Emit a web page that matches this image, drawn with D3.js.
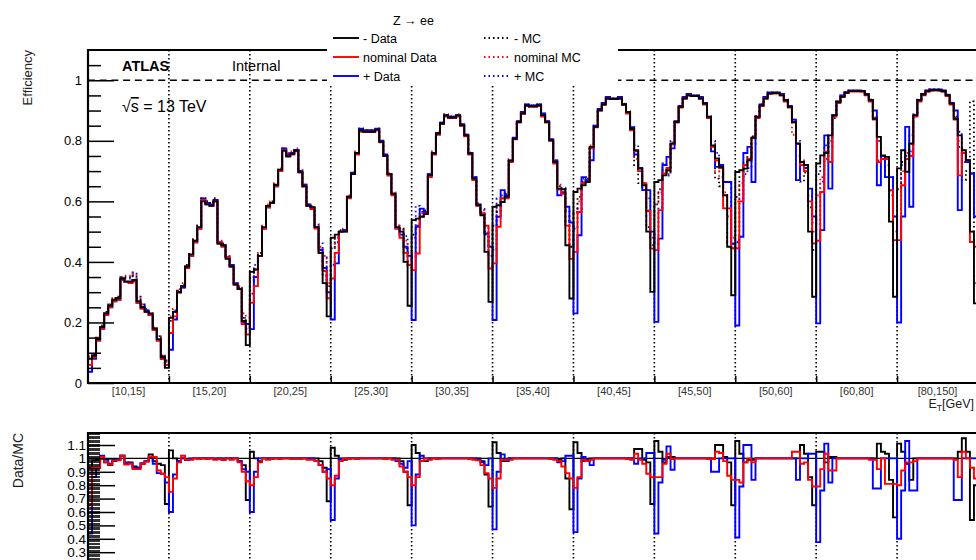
<!DOCTYPE html>
<html><head><meta charset="utf-8">
<script src="https://cdn.jsdelivr.net/npm/d3@7"></script>
<style>body{margin:0;background:#fff;} svg{display:block;font-family:"Liberation Sans",Arial,sans-serif;}</style>
</head><body><svg id="c" width="976" height="560"></svg>
<script>
// ---------- data ----------
const etLabels = ["[10,15]","[15,20]","[20,25]","[25,30]","[30,35]","[35,40]","[40,45]","[45,50]","[50,60]","[60,80]","[80,150]"];
const mainTicks = [0,0.2,0.4,0.6,0.8,1];
const mainTickLabels = ["0","0.2","0.4","0.6","0.8","1"];
const ratioTicks = [0.3,0.4,0.5,0.6,0.7,0.8,0.9,1,1.1];
const ratioTickLabels = ["0.3","0.4","0.5","0.6","0.7","0.8","0.9","1","1.1"];
const legendTitle = "Z \u2192 ee";
const dataNames = ["- Data","nominal Data","+ Data"];
const mcNames = ["- MC","nominal MC","+ MC"];

// efficiency, 20 eta bins per ET bin
const minusData = [
[0.08,0.09,0.145,0.185,0.23,0.255,0.275,0.28,0.345,0.335,0.335,0.34,0.27,0.25,0.235,0.23,0.18,0.145,0.085,0.05],
[0.215,0.235,0.30,0.32,0.385,0.425,0.47,0.515,0.60,0.59,0.585,0.60,0.46,0.455,0.41,0.385,0.325,0.31,0.205,0.125],
[0.367,0.375,0.42,0.515,0.585,0.595,0.655,0.705,0.767,0.748,0.757,0.767,0.697,0.65,0.585,0.58,0.515,0.43,0.33,0.22],
[0.48,0.49,0.50,0.50,0.615,0.69,0.76,0.835,0.83,0.83,0.83,0.837,0.797,0.75,0.69,0.625,0.515,0.50,0.40,0.255],
[0.538,0.543,0.549,0.558,0.686,0.758,0.824,0.857,0.884,0.877,0.877,0.884,0.851,0.818,0.758,0.675,0.587,0.554,0.433,0.268],
[0.582,0.587,0.598,0.615,0.734,0.807,0.862,0.89,0.917,0.914,0.914,0.917,0.885,0.862,0.802,0.73,0.642,0.64,0.455,0.279],
[0.631,0.642,0.653,0.664,0.78,0.846,0.901,0.92,0.94,0.938,0.938,0.94,0.92,0.895,0.84,0.769,0.708,0.653,0.5,0.301],
[0.664,0.67,0.686,0.703,0.791,0.862,0.912,0.94,0.95,0.948,0.948,0.94,0.923,0.879,0.785,0.742,0.714,0.62,0.45,0.29],
[0.697,0.703,0.708,0.736,0.81,0.879,0.917,0.94,0.956,0.958,0.958,0.95,0.934,0.912,0.862,0.791,0.73,0.72,0.5,0.285],
[0.725,0.752,0.76,0.818,0.884,0.928,0.945,0.959,0.964,0.964,0.964,0.964,0.953,0.934,0.873,0.813,0.752,0.747,0.533,0.285],
[0.709,0.769,0.698,0.791,0.884,0.934,0.953,0.964,0.967,0.968,0.967,0.964,0.95,0.923,0.873,0.818,0.769,0.736,0.5,0.263]];
const nominalData = [
[0.06,0.085,0.14,0.18,0.225,0.25,0.27,0.275,0.34,0.335,0.33,0.335,0.265,0.245,0.235,0.225,0.175,0.14,0.08,0.06],
[0.165,0.22,0.30,0.32,0.38,0.42,0.465,0.51,0.605,0.59,0.585,0.60,0.465,0.45,0.415,0.385,0.325,0.31,0.195,0.16],
[0.265,0.32,0.42,0.51,0.58,0.595,0.65,0.70,0.77,0.75,0.755,0.765,0.695,0.65,0.585,0.575,0.51,0.43,0.37,0.28],
[0.345,0.43,0.50,0.50,0.61,0.69,0.755,0.83,0.83,0.83,0.83,0.835,0.795,0.75,0.685,0.62,0.51,0.48,0.43,0.39],
[0.373,0.428,0.55,0.56,0.68,0.755,0.82,0.855,0.88,0.875,0.875,0.88,0.85,0.815,0.755,0.67,0.585,0.56,0.52,0.378],
[0.395,0.516,0.61,0.61,0.73,0.805,0.86,0.89,0.915,0.912,0.912,0.915,0.88,0.86,0.8,0.725,0.64,0.625,0.52,0.41],
[0.433,0.565,0.66,0.665,0.775,0.845,0.9,0.92,0.94,0.938,0.938,0.94,0.918,0.89,0.835,0.765,0.7,0.66,0.568,0.444],
[0.439,0.571,0.692,0.71,0.79,0.86,0.91,0.94,0.95,0.948,0.948,0.94,0.92,0.875,0.78,0.735,0.71,0.577,0.577,0.445],
[0.445,0.6,0.72,0.74,0.81,0.875,0.915,0.94,0.955,0.956,0.956,0.95,0.93,0.91,0.86,0.79,0.72,0.7,0.6,0.461],
[0.47,0.631,0.764,0.73,0.88,0.925,0.945,0.958,0.963,0.963,0.963,0.962,0.95,0.93,0.87,0.73,0.74,0.74,0.637,0.472],
[0.472,0.653,0.74,0.75,0.88,0.93,0.95,0.962,0.966,0.966,0.966,0.962,0.948,0.92,0.87,0.686,0.76,0.736,0.466,0.45]];
const plusData = [
[0.037,0.08,0.14,0.18,0.225,0.25,0.27,0.275,0.345,0.335,0.335,0.34,0.265,0.25,0.24,0.225,0.175,0.14,0.08,0.06],
[0.11,0.21,0.30,0.315,0.38,0.42,0.465,0.51,0.61,0.595,0.59,0.605,0.465,0.455,0.415,0.39,0.33,0.31,0.2,0.195],
[0.178,0.35,0.42,0.51,0.58,0.595,0.65,0.70,0.775,0.755,0.76,0.77,0.70,0.655,0.59,0.58,0.515,0.44,0.38,0.3],
[0.21,0.395,0.50,0.505,0.615,0.695,0.76,0.84,0.835,0.835,0.835,0.84,0.80,0.755,0.69,0.625,0.51,0.49,0.45,0.42],
[0.208,0.516,0.576,0.565,0.69,0.76,0.825,0.86,0.885,0.88,0.88,0.885,0.855,0.82,0.76,0.68,0.59,0.56,0.494,0.45],
[0.208,0.549,0.637,0.62,0.735,0.81,0.865,0.895,0.92,0.917,0.917,0.92,0.89,0.865,0.805,0.735,0.62,0.63,0.582,0.53],
[0.23,0.488,0.68,0.67,0.736,0.85,0.905,0.925,0.945,0.94,0.94,0.945,0.922,0.895,0.845,0.755,0.71,0.637,0.637,0.5],
[0.202,0.477,0.72,0.747,0.775,0.865,0.915,0.945,0.955,0.95,0.95,0.945,0.925,0.88,0.765,0.714,0.72,0.664,0.664,0.46],
[0.19,0.483,0.76,0.78,0.664,0.88,0.92,0.945,0.96,0.96,0.96,0.955,0.935,0.915,0.87,0.67,0.73,0.71,0.642,0.55],
[0.197,0.505,0.818,0.642,0.885,0.93,0.95,0.96,0.966,0.966,0.966,0.965,0.955,0.935,0.9,0.653,0.75,0.68,0.68,0.55],
[0.2,0.55,0.846,0.582,0.885,0.935,0.955,0.966,0.97,0.97,0.97,0.966,0.952,0.925,0.9,0.571,0.76,0.73,0.692,0.55]];
const minusMC = [
[0.085,0.095,0.15,0.19,0.235,0.26,0.28,0.285,0.35,0.35,0.35,0.355,0.28,0.26,0.24,0.225,0.185,0.15,0.09,0.075],
[0.205,0.235,0.305,0.325,0.39,0.43,0.475,0.52,0.61,0.6,0.595,0.61,0.465,0.46,0.415,0.385,0.325,0.315,0.215,0.18],
[0.35,0.375,0.43,0.515,0.585,0.6,0.655,0.705,0.77,0.75,0.76,0.77,0.7,0.65,0.585,0.58,0.515,0.44,0.355,0.32],
[0.445,0.48,0.505,0.505,0.615,0.69,0.76,0.835,0.83,0.83,0.83,0.837,0.797,0.75,0.69,0.625,0.515,0.51,0.445,0.39],
[0.49,0.52,0.56,0.57,0.686,0.758,0.824,0.857,0.884,0.877,0.877,0.884,0.851,0.818,0.758,0.675,0.587,0.565,0.49,0.42],
[0.52,0.565,0.61,0.625,0.734,0.807,0.862,0.89,0.917,0.914,0.914,0.917,0.885,0.862,0.802,0.73,0.65,0.64,0.535,0.45],
[0.565,0.615,0.665,0.675,0.78,0.846,0.901,0.92,0.94,0.938,0.938,0.94,0.92,0.895,0.84,0.72,0.66,0.66,0.515,0.455],
[0.59,0.64,0.705,0.7,0.785,0.862,0.912,0.94,0.95,0.948,0.948,0.94,0.923,0.879,0.785,0.675,0.65,0.615,0.465,0.445],
[0.615,0.68,0.73,0.745,0.815,0.879,0.917,0.94,0.956,0.958,0.958,0.95,0.934,0.912,0.862,0.791,0.665,0.695,0.58,0.44],
[0.69,0.715,0.785,0.81,0.875,0.928,0.945,0.959,0.964,0.964,0.964,0.964,0.953,0.934,0.873,0.735,0.715,0.72,0.635,0.51],
[0.64,0.73,0.725,0.82,0.884,0.934,0.953,0.964,0.967,0.968,0.967,0.964,0.95,0.923,0.873,0.78,0.67,0.7,0.93,0.33]];
const nominalMC = [
[0.09,0.095,0.15,0.185,0.235,0.26,0.28,0.285,0.35,0.355,0.355,0.36,0.285,0.26,0.24,0.23,0.18,0.155,0.09,0.07],
[0.22,0.245,0.31,0.33,0.39,0.43,0.475,0.52,0.61,0.6,0.595,0.61,0.47,0.46,0.42,0.39,0.33,0.32,0.23,0.19],
[0.34,0.37,0.43,0.52,0.59,0.6,0.66,0.71,0.775,0.76,0.765,0.775,0.705,0.655,0.59,0.585,0.52,0.45,0.42,0.33],
[0.43,0.48,0.5,0.51,0.62,0.695,0.765,0.84,0.835,0.835,0.835,0.84,0.8,0.755,0.695,0.63,0.52,0.51,0.47,0.4],
[0.48,0.52,0.56,0.57,0.69,0.765,0.83,0.862,0.888,0.882,0.882,0.888,0.855,0.822,0.762,0.68,0.595,0.57,0.5,0.42],
[0.52,0.57,0.61,0.63,0.74,0.81,0.865,0.893,0.92,0.917,0.917,0.92,0.888,0.865,0.805,0.735,0.655,0.64,0.55,0.45],
[0.56,0.6,0.66,0.68,0.785,0.85,0.905,0.923,0.943,0.94,0.94,0.943,0.923,0.898,0.843,0.74,0.71,0.66,0.57,0.48],
[0.59,0.63,0.7,0.69,0.795,0.865,0.915,0.943,0.953,0.95,0.95,0.943,0.925,0.882,0.79,0.7,0.68,0.63,0.55,0.48],
[0.6,0.66,0.72,0.75,0.815,0.882,0.92,0.943,0.958,0.96,0.96,0.953,0.937,0.915,0.82,0.75,0.735,0.72,0.6,0.5],
[0.62,0.68,0.74,0.8,0.888,0.93,0.948,0.961,0.966,0.966,0.966,0.966,0.955,0.937,0.877,0.8,0.74,0.74,0.62,0.5],
[0.63,0.7,0.76,0.79,0.888,0.937,0.955,0.966,0.97,0.97,0.97,0.966,0.952,0.926,0.877,0.8,0.73,0.735,0.5,0.5]];
const plusMC = [
[0.08,0.095,0.15,0.18,0.23,0.26,0.275,0.28,0.34,0.345,0.345,0.365,0.285,0.26,0.245,0.225,0.18,0.155,0.09,0.075],
[0.185,0.24,0.305,0.315,0.385,0.42,0.465,0.51,0.61,0.595,0.59,0.605,0.465,0.455,0.415,0.39,0.33,0.315,0.215,0.215],
[0.295,0.39,0.42,0.51,0.58,0.595,0.65,0.70,0.775,0.755,0.76,0.77,0.70,0.655,0.59,0.58,0.525,0.465,0.42,0.325],
[0.39,0.465,0.5,0.505,0.615,0.695,0.76,0.84,0.835,0.835,0.835,0.84,0.80,0.755,0.69,0.625,0.52,0.51,0.485,0.43],
[0.415,0.585,0.565,0.565,0.69,0.76,0.825,0.86,0.885,0.88,0.88,0.885,0.855,0.82,0.76,0.68,0.595,0.575,0.52,0.45],
[0.44,0.61,0.62,0.625,0.735,0.81,0.865,0.895,0.92,0.917,0.917,0.92,0.89,0.865,0.805,0.735,0.64,0.645,0.57,0.52],
[0.51,0.575,0.675,0.675,0.775,0.85,0.905,0.925,0.945,0.94,0.94,0.945,0.922,0.895,0.845,0.785,0.71,0.637,0.61,0.48],
[0.46,0.58,0.725,0.685,0.8,0.865,0.915,0.945,0.955,0.95,0.95,0.945,0.925,0.88,0.8,0.76,0.72,0.664,0.664,0.46],
[0.465,0.61,0.69,0.71,0.79,0.88,0.92,0.945,0.96,0.96,0.96,0.955,0.935,0.915,0.87,0.8,0.73,0.71,0.62,0.53],
[0.525,0.665,0.735,0.78,0.885,0.93,0.95,0.96,0.966,0.966,0.966,0.965,0.955,0.935,0.88,0.8,0.75,0.68,0.68,0.55],
[0.5,0.72,0.75,0.765,0.885,0.935,0.955,0.966,0.97,0.97,0.97,0.966,0.952,0.925,0.88,0.83,0.76,0.73,0.692,0.55]];
// Data/MC ratios
const minusRatio = [
[0.93,0.985,0.99,1.0,0.97,0.95,0.98,0.99,1.02,0.96,0.97,0.94,0.93,0.96,0.98,1.03,0.98,0.96,0.95,0.66],
[1.06,1.0,0.98,1.0,0.99,0.995,1.0,1.0,1.0,1.0,1.0,0.995,1.0,0.99,1.0,1.0,1.0,0.98,0.95,0.69],
[1.05,1.0,0.98,1.0,1.0,1.0,1.0,1.0,1.0,1.0,1.0,1.0,1.0,1.0,1.0,1.0,1.0,0.98,0.93,0.68],
[1.08,1.02,0.99,0.99,1.0,1.0,1.0,1.0,1.0,1.0,1.0,1.0,1.0,1.0,1.0,1.0,1.0,0.98,0.9,0.65],
[1.1,1.04,0.98,0.98,1.0,1.0,1.0,1.0,1.0,1.0,1.0,1.0,1.0,1.0,1.0,1.0,1.0,0.98,0.88,0.64],
[1.12,1.04,0.98,0.98,1.0,1.0,1.0,1.0,1.0,1.0,1.0,1.0,1.0,1.0,1.0,1.0,0.99,1.0,0.85,0.62],
[1.12,1.04,0.98,0.98,1.0,1.0,1.0,1.0,1.0,1.0,1.0,1.0,1.0,1.0,1.0,1.07,1.07,0.99,0.97,0.66],
[1.13,1.05,0.97,1.01,1.01,1.0,1.0,1.0,1.0,1.0,1.0,1.0,1.0,1.0,1.0,1.1,1.1,1.01,0.97,0.65],
[1.13,1.035,0.97,0.99,0.99,1.0,1.0,1.0,1.0,1.0,1.0,1.0,1.0,1.0,1.0,1.0,1.1,1.035,0.86,0.65],
[1.05,1.05,0.97,1.01,1.01,1.0,1.0,1.0,1.0,1.0,1.0,1.0,1.0,1.0,1.0,1.11,1.05,1.035,0.84,0.56],
[1.11,1.05,0.96,0.84,1.0,1.0,1.0,1.0,1.0,1.0,1.0,1.0,1.0,1.0,1.0,1.05,1.15,1.05,0.54,0.8]];
const nominalRatio = [
[0.65,0.93,0.93,1.01,0.97,0.955,0.985,0.985,1.02,0.955,0.96,0.92,0.92,0.96,0.975,1.015,1.01,0.91,0.885,0.86],
[0.75,0.85,0.97,1.02,0.99,0.99,1.0,0.995,1.0,0.995,1.0,0.99,0.995,0.99,1.0,0.99,1.0,0.97,0.9,0.83],
[0.8,0.86,0.97,1.0,0.99,0.995,1.0,0.995,1.0,1.0,0.995,0.995,0.995,1.0,0.99,0.99,0.98,0.95,0.9,0.85],
[0.8,0.87,0.98,1.0,0.995,1.0,0.995,1.0,1.0,1.0,1.0,1.0,1.0,0.995,1.0,0.99,0.99,0.94,0.9,0.86],
[0.8,0.86,0.98,1.0,0.99,1.0,0.995,1.0,1.0,1.0,1.0,1.0,1.0,1.0,0.995,0.99,0.985,0.95,0.89,0.85],
[0.78,0.85,0.99,0.99,0.99,1.0,1.0,1.0,1.0,1.0,1.0,1.0,1.0,1.0,0.995,0.99,0.98,0.94,0.89,0.85],
[0.78,0.86,0.99,0.98,0.99,1.0,1.0,1.0,1.0,1.0,1.0,1.0,1.0,0.995,0.99,1.035,0.99,0.96,0.885,0.86],
[0.86,0.86,0.96,1.035,0.995,1.0,1.0,1.0,1.0,1.0,1.0,1.0,1.0,0.995,0.995,1.05,1.04,0.98,0.87,0.84],
[0.84,0.82,0.97,1.0,0.97,1.0,1.0,1.0,1.0,1.0,1.0,1.0,1.0,1.0,1.05,1.05,0.96,0.97,0.84,0.79],
[0.79,0.92,1.035,0.91,0.91,1.0,1.0,1.0,1.0,1.0,1.0,1.0,1.0,0.99,0.99,0.92,1.0,0.81,0.81,0.81],
[0.8,0.91,0.97,0.97,0.98,1.0,1.0,1.0,1.0,1.0,1.0,1.0,1.0,1.0,0.99,0.86,1.05,1.0,0.93,0.85]];
const plusRatio = [
[0.44,0.86,0.93,1.02,0.99,0.96,0.985,0.99,1.02,0.97,0.965,0.93,0.93,0.965,0.98,1.01,0.96,0.89,0.885,0.82],
[0.6,0.88,0.98,1.0,0.99,1.0,1.0,1.0,1.0,1.0,1.0,1.0,1.0,1.0,1.0,1.0,1.0,0.98,0.92,0.9],
[0.6,0.9,1.0,1.0,1.0,1.0,1.0,1.0,1.0,1.0,1.0,1.0,1.0,1.0,1.0,1.0,0.98,0.95,0.9,0.92],
[0.54,0.85,1.0,1.0,1.0,1.0,1.0,1.0,1.0,1.0,1.0,1.0,1.0,1.0,1.0,1.0,0.98,0.96,0.93,0.98],
[0.5,0.88,1.02,1.0,1.0,1.0,1.0,1.0,1.0,1.0,1.0,1.0,1.0,1.0,1.0,1.0,0.99,0.97,0.95,1.0],
[0.47,0.9,1.03,0.99,1.0,1.0,1.0,1.0,1.0,1.0,1.0,1.0,1.0,1.0,1.0,1.0,0.97,0.98,1.02,1.02],
[0.45,0.85,1.01,0.99,0.95,1.0,1.0,1.0,1.0,1.0,1.0,1.0,1.0,1.0,1.0,0.96,1.0,1.0,1.04,1.04],
[0.44,0.82,0.99,1.09,0.915,1.0,1.0,1.0,1.0,1.0,1.0,1.0,1.0,1.0,0.9,0.9,1.0,1.0,1.0,1.0],
[0.41,0.79,1.1,1.1,0.84,1.0,1.0,1.0,1.0,1.0,1.0,1.0,1.0,1.0,1.0,0.84,1.0,1.0,1.035,1.035],
[0.375,0.76,1.11,0.82,1.0,1.0,1.0,1.0,1.0,1.0,1.0,1.0,1.0,1.0,0.775,0.775,1.0,1.0,1.0,1.0],
[0.4,0.76,1.13,0.76,0.76,1.0,1.0,1.0,1.0,1.0,1.0,1.0,1.0,1.0,0.69,0.69,1.0,1.0,1.0,1.0]];

// ---------- drawing ----------
const svg = d3.select("#c");
const nBins = etLabels.length * 20;
const L = 88, R = 978, T = 50, B = 383, RT = 433, RB = 580;
const x = d3.scaleLinear().domain([0, nBins]).range([L, R]);
const band = d3.scaleBand().domain(etLabels).range([L, R]);
const y = d3.scaleLinear().domain([0, 1.1]).range([B, T]);
const yR = d3.scaleLinear().domain([0.2, 1.2]).range([565.6, 431.6]);
const COLORS = ["#000000", "#ff0000", "#0000ff"];

const defs = svg.append("defs");
defs.append("clipPath").attr("id", "cm").append("rect").attr("x", L).attr("y", T).attr("width", R - L).attr("height", B - T);
defs.append("clipPath").attr("id", "cr").append("rect").attr("x", L).attr("y", RT).attr("width", R - L).attr("height", RB - RT);

function stepLine(vals, ys) {
  const flat = vals.flat();
  const pts = flat.map((v, i) => [i, v]).concat([[flat.length, flat[flat.length - 1]]]);
  return d3.line().x(d => x(d[0])).y(d => ys(d[1])).curve(d3.curveStepAfter)(pts);
}

// ===== main pad =====
const gm = svg.append("g").attr("clip-path", "url(#cm)");
gm.append("line").attr("x1", L).attr("x2", R).attr("y1", y(1)).attr("y2", y(1))
  .attr("stroke", "#000").attr("stroke-width", 1.6).attr("stroke-dasharray", "7,4.7");
for (let e = 1; e < etLabels.length; e++) {
  gm.append("line").attr("x1", x(e * 20)).attr("x2", x(e * 20)).attr("y1", T).attr("y2", B)
    .attr("stroke", "#000").attr("stroke-width", 1.6).attr("stroke-dasharray", "1.6,2.4");
}
const mcSeries = [plusMC, nominalMC, minusMC];
const mcCols = ["#0000ff", "#ff0000", "#000000"];
mcSeries.forEach((s, i) => gm.append("path").attr("d", stepLine(s, y)).attr("fill", "none")
  .attr("stroke", mcCols[i]).attr("stroke-width", 1.8).attr("stroke-dasharray", "1.5,3"));
const dataSeries = [plusData, nominalData, minusData];
dataSeries.forEach((s, i) => gm.append("path").attr("d", stepLine(s, y)).attr("fill", "none")
  .attr("stroke", mcCols[i]).attr("stroke-width", 1.9));

svg.append("path").attr("d", `M${L},${B}H${R}M${L},${T}H${R}`).attr("stroke", "#000").attr("stroke-width", 2).attr("fill", "none");
svg.append("line").attr("x1", L).attr("x2", L).attr("y1", T - 1).attr("y2", B + 1).attr("stroke", "#000").attr("stroke-width", 2.2);

const minorMain = d3.range(0, 22).map(i => i * 0.05).filter(v => Math.abs(v * 5 - Math.round(v * 5)) > 1e-6);
const yAx = svg.append("g").attr("transform", `translate(${L},0)`)
  .call(d3.axisLeft(y).tickValues(mainTicks).tickSize(-26).tickPadding(6).tickFormat((d, i) => mainTickLabels[i]));
yAx.select(".domain").remove();
yAx.selectAll("line").attr("stroke-width", 1.5);
yAx.selectAll("text").attr("font-size", 13).attr("font-family", "Liberation Sans, Arial, sans-serif").attr("fill", "#000");
const yAxm = svg.append("g").attr("transform", `translate(${L},0)`)
  .call(d3.axisLeft(y).tickValues(minorMain).tickSize(-13).tickFormat(""));
yAxm.select(".domain").remove();
yAxm.selectAll("line").attr("stroke-width", 1.5);

const xAx = svg.append("g").attr("transform", `translate(0,${B})`)
  .call(d3.axisBottom(x).tickValues(d3.range(1, etLabels.length).map(e => e * 20)).tickSize(-7).tickFormat(""));
xAx.select(".domain").remove();
xAx.selectAll("line").attr("stroke-width", 1.5);
const xLab = svg.append("g").attr("transform", `translate(0,${B})`)
  .call(d3.axisBottom(band).tickSize(0).tickPadding(4));
xLab.select(".domain").remove();
xLab.selectAll("text").attr("font-size", 11).attr("font-family", "Liberation Sans, Arial, sans-serif").attr("fill", "#333");

svg.append("text").attr("transform", "translate(32,50) rotate(-90)").attr("text-anchor", "end")
  .attr("font-size", 13).attr("fill", "#222").text("Efficiency");
const xt = svg.append("text").attr("x", 974).attr("y", 408).attr("text-anchor", "end").attr("font-size", 12.5).attr("fill", "#222");
xt.append("tspan").text("E");
xt.append("tspan").attr("font-size", 8.5).attr("dy", 3).text("T");
xt.append("tspan").attr("dy", -3).text("[GeV]");

svg.append("text").attr("x", 122).attr("y", 71).attr("font-size", 14.5).attr("font-weight", "bold").text("ATLAS");
svg.append("text").attr("x", 232).attr("y", 71).attr("font-size", 14.5).text("Internal");
const sq = svg.append("text").attr("x", 122).attr("y", 112).attr("font-size", 16);
sq.append("tspan").text("\u221A");
sq.append("tspan").attr("text-decoration", "overline").text("s");
sq.append("tspan").text(" = 13 TeV");

svg.append("rect").attr("x", 327).attr("y", 0).attr("width", 291).attr("height", 86).attr("fill", "#fff");
svg.append("text").attr("x", 393).attr("y", 24.5).attr("font-size", 12.5).text(legendTitle);
const rowsY = [38, 57, 76];
dataNames.forEach((n, i) => {
  svg.append("line").attr("x1", 333).attr("x2", 359).attr("y1", rowsY[i]).attr("y2", rowsY[i])
    .attr("stroke", COLORS[i]).attr("stroke-width", 1.9);
  svg.append("text").attr("x", 363).attr("y", rowsY[i] + 4.5).attr("font-size", 12.5).text(n);
});
mcNames.forEach((n, i) => {
  svg.append("line").attr("x1", 484).attr("x2", 510).attr("y1", rowsY[i]).attr("y2", rowsY[i])
    .attr("stroke", COLORS[i]).attr("stroke-width", 1.8).attr("stroke-dasharray", "1.5,3");
  svg.append("text").attr("x", 514).attr("y", rowsY[i] + 4.5).attr("font-size", 12.5).text(n);
});

// ===== ratio pad =====
const gr = svg.append("g").attr("clip-path", "url(#cr)");
gr.append("line").attr("x1", L).attr("x2", R).attr("y1", yR(1)).attr("y2", yR(1)).attr("stroke", "#000").attr("stroke-width", 1.2);
for (let e = 1; e < etLabels.length; e++) {
  gr.append("line").attr("x1", x(e * 20)).attr("x2", x(e * 20)).attr("y1", RT).attr("y2", RB)
    .attr("stroke", "#000").attr("stroke-width", 1.6).attr("stroke-dasharray", "1.6,2.4");
}
[minusRatio, plusRatio, nominalRatio].forEach((s, i) => gr.append("path").attr("d", stepLine(s, yR))
  .attr("fill", "none").attr("stroke", ["#000000", "#0000ff", "#ff0000"][i]).attr("stroke-width", 1.9));

svg.append("path").attr("d", `M${L},${RT}H${R}`).attr("stroke", "#000").attr("stroke-width", 2);
svg.append("line").attr("x1", L).attr("x2", L).attr("y1", RT - 1).attr("y2", RB).attr("stroke", "#000").attr("stroke-width", 2.2);

const minorR = d3.range(20, 120).map(i => i / 100).filter(v => Math.round(v * 100) % 10 !== 0);
const rAxm = svg.append("g").attr("transform", `translate(${L},0)`)
  .call(d3.axisLeft(yR).tickValues(minorR).tickSize(-12).tickFormat(""));
rAxm.select(".domain").remove();
rAxm.selectAll("line").attr("stroke-width", 0.8).attr("shape-rendering", "crispEdges");
const rAx = svg.append("g").attr("transform", `translate(${L},0)`)
  .call(d3.axisLeft(yR).tickValues(ratioTicks).tickSize(-27).tickPadding(2).tickFormat((d, i) => ratioTickLabels[i]));
rAx.select(".domain").remove();
rAx.selectAll("line").attr("stroke-width", 1.5);
rAx.selectAll("text").attr("font-size", 13.5).attr("font-family", "Liberation Sans, Arial, sans-serif").attr("fill", "#000");

svg.append("text").attr("transform", "translate(23,433) rotate(-90)").attr("text-anchor", "end")
  .attr("font-size", 14).attr("fill", "#222").text("Data/MC");
</script></body></html>
